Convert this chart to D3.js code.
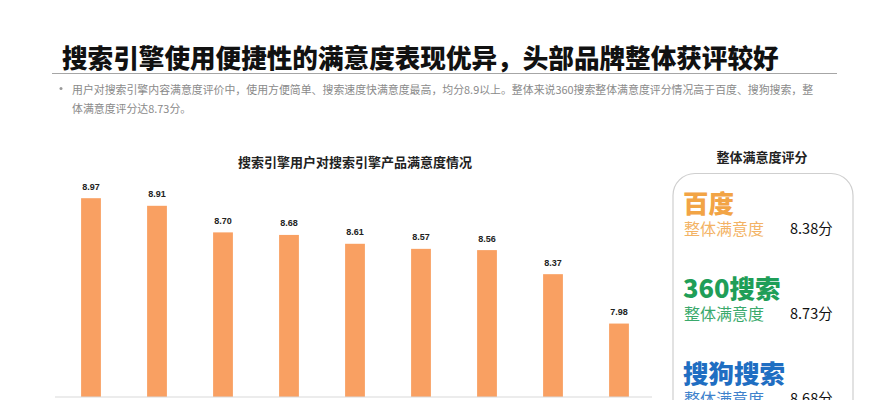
<!DOCTYPE html>
<html>
<head>
<meta charset="utf-8">
<script src="https://cdn.jsdelivr.net/npm/d3@7"></script>
<style>
  html, body { margin: 0; padding: 0; background: #fff; }
  svg { display: block; }
</style>
</head>
<body>
<svg id="chart" width="889" height="400"></svg>
<script>
// ---- data ----
const pageTitle = "搜索引擎使用便捷性的满意度表现优异，头部品牌整体获评较好";
const noteLines = [
  "用户对搜索引擎内容满意度评价中，使用方便简单、搜索速度快满意度最高，均分8.9以上。整体来说360搜索整体满意度评分情况高于百度、搜狗搜索，整",
  "体满意度评分达8.73分。"
];
const chartTitle = "搜索引擎用户对搜索引擎产品满意度情况";
const categories = ["c1", "c2", "c3", "c4", "c5", "c6", "c7", "c8", "c9"];
const values = [8.97, 8.91, 8.70, 8.68, 8.61, 8.57, 8.56, 8.37, 7.98];
const panelTitle = "整体满意度评分";
const brands = ["百度", "360搜索", "搜狗搜索"];
const brandScores = [8.38, 8.73, 8.68];
const brandSubLabel = "整体满意度";

// ---- drawing ----
const svg = d3.select("#chart");
const cjk = "'Noto Sans CJK SC', 'Microsoft YaHei', sans-serif";

// page title
svg.append("text")
  .attr("x", 62).attr("y", 56)
  .attr("dominant-baseline", "central")
  .attr("font-family", cjk).attr("font-weight", 900)
  .attr("font-size", 25.6).attr("fill", "#111")
  .text(pageTitle);

svg.append("line")
  .attr("x1", 52).attr("x2", 837).attr("y1", 73.5).attr("y2", 73.5)
  .attr("stroke", "#a6a6a6").attr("stroke-width", 1.2);

// bullet note
svg.append("circle").attr("cx", 61).attr("cy", 88.5).attr("r", 1.5).attr("fill", "#999");
noteLines.forEach((t, i) => {
  svg.append("text")
    .attr("x", 72).attr("y", 88.5 + i * 19)
    .attr("dominant-baseline", "central")
    .attr("font-family", cjk).attr("font-size", 10.9)
    .attr("fill", "#8a8a8a")
    .text(t);
});

// chart title
svg.append("text")
  .attr("x", 355).attr("y", 161)
  .attr("text-anchor", "middle").attr("dominant-baseline", "central")
  .attr("font-family", cjk).attr("font-weight", 700)
  .attr("font-size", 13).attr("fill", "#222")
  .text(chartTitle);

// scales
const x = d3.scaleBand().domain(categories).range([58, 652])
  .paddingInner(0.7).paddingOuter(0.35);
const y = d3.scaleLinear().domain([7.4, 9.0]).range([397, 194.4]);

// bars
svg.append("g").selectAll("rect")
  .data(values)
  .join("rect")
  .attr("x", (d, i) => x(categories[i]))
  .attr("width", x.bandwidth())
  .attr("y", d => y(d))
  .attr("height", d => y(7.4) - y(d))
  .attr("fill", "#F9A062");

// value labels
svg.append("g").selectAll("text")
  .data(values)
  .join("text")
  .attr("x", (d, i) => x(categories[i]) + x.bandwidth() / 2)
  .attr("y", d => y(d) - 8.5)
  .attr("text-anchor", "middle")
  .attr("font-family", "'Liberation Sans', Arial, sans-serif")
  .attr("font-weight", 700).attr("font-size", 9)
  .attr("fill", "#222")
  .text(d => d.toFixed(2));

// x axis baseline
const xAxis = d3.axisBottom(x).tickSize(0).tickFormat("");
const ax = svg.append("g").attr("transform", `translate(0,${y(7.4)})`).call(xAxis);
ax.select(".domain").attr("stroke", "#d9d9d9").attr("d", "M55,0H652");

// right panel
svg.append("text")
  .attr("x", 762).attr("y", 156)
  .attr("text-anchor", "middle").attr("dominant-baseline", "central")
  .attr("font-family", cjk).attr("font-weight", 700)
  .attr("font-size", 13).attr("fill", "#222")
  .text(panelTitle);

svg.append("rect")
  .attr("x", 673).attr("y", 173.5).attr("width", 180).attr("height", 280)
  .attr("rx", 22).attr("ry", 22)
  .attr("fill", "none").attr("stroke", "#cfcfcf").attr("stroke-width", 1.2);

const brandColors = ["#F2A445", "#1F9E58", "#1F6EC2"];
const subColors = ["#F3B365", "#3AA96C", "#3F82CC"];
const rowY = d3.scaleLinear().domain([0, 1]).range([201, 286]);

brands.forEach((b, i) => {
  const yb = rowY(i);
  svg.append("text")
    .attr("x", 683).attr("y", yb)
    .attr("dominant-baseline", "central")
    .attr("font-family", cjk).attr("font-weight", 900)
    .attr("font-size", 25.5).attr("fill", brandColors[i])
    .text(b);
  svg.append("text")
    .attr("x", 684).attr("y", yb + 26.5)
    .attr("dominant-baseline", "central")
    .attr("font-family", cjk).attr("font-size", 16)
    .attr("fill", subColors[i])
    .text(brandSubLabel);
  svg.append("text")
    .attr("x", 790).attr("y", yb + 26.5)
    .attr("dominant-baseline", "central")
    .attr("font-family", cjk).attr("font-size", 14.5)
    .attr("fill", "#111")
    .text(brandScores[i].toFixed(2) + "分");
});
</script>
</body>
</html>
